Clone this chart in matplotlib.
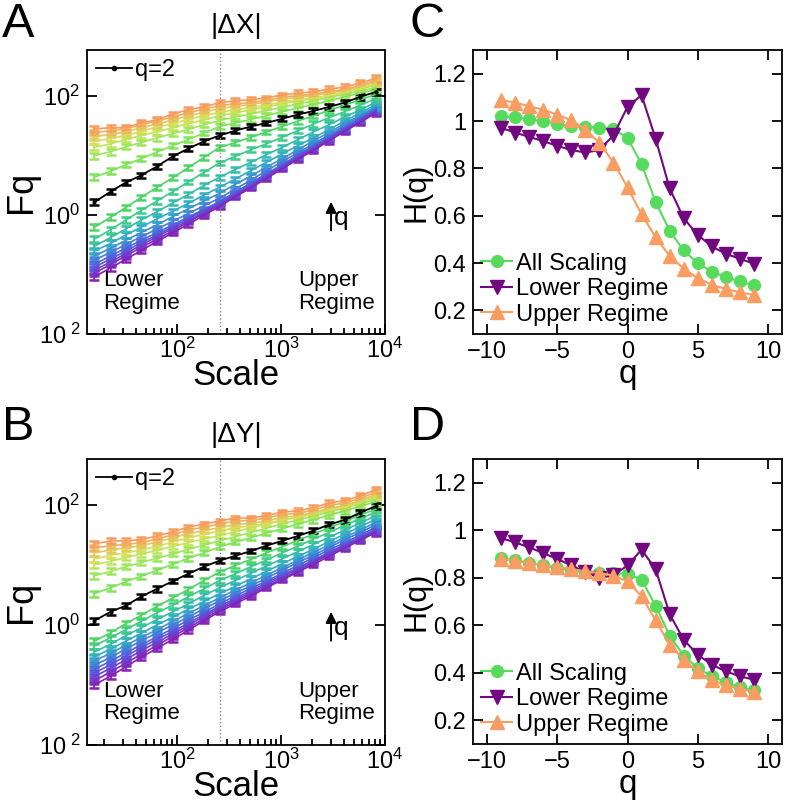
import numpy as np
import matplotlib.pyplot as plt
from matplotlib.colors import LinearSegmentedColormap
from matplotlib.lines import Line2D
from matplotlib.ticker import FixedLocator, LogLocator, NullFormatter, NullLocator

plt.rcParams['font.family'] = ['Liberation Sans', 'DejaVu Sans']
plt.rcParams['mathtext.fontset'] = 'custom'
plt.rcParams['mathtext.rm'] = 'Liberation Sans'
plt.rcParams['mathtext.it'] = 'Liberation Sans:italic'

# window sizes (scales) and q orders
scales = [16, 23, 32, 45, 64, 91, 128, 181, 256, 362, 512, 724, 1024,
          1448, 2048, 2896, 4096, 5793, 8192]
q_values = [-9, -8, -7, -6, -5, -4, -3, -2, -1, 0, 1, 2, 3, 4, 5, 6, 7, 8, 9]
crossover = 256

# log10 Fq (|dX|), one row per q from -9 to 9
logF_x = [
    [-1.04, -0.89, -0.75, -0.60, -0.45, -0.30, -0.16, -0.01, 0.14, 0.30, 0.45, 0.61, 0.77, 0.93, 1.08, 1.24, 1.40, 1.55, 1.71],
    [-0.98, -0.83, -0.69, -0.55, -0.41, -0.27, -0.12, 0.02, 0.16, 0.32, 0.47, 0.63, 0.79, 0.95, 1.10, 1.26, 1.42, 1.57, 1.73],
    [-0.93, -0.79, -0.65, -0.51, -0.37, -0.23, -0.10, 0.04, 0.18, 0.34, 0.49, 0.65, 0.81, 0.97, 1.12, 1.28, 1.44, 1.59, 1.75],
    [-0.88, -0.74, -0.61, -0.47, -0.34, -0.20, -0.07, 0.07, 0.20, 0.36, 0.51, 0.67, 0.83, 0.99, 1.14, 1.30, 1.46, 1.61, 1.77],
    [-0.83, -0.69, -0.56, -0.43, -0.30, -0.17, -0.04, 0.09, 0.22, 0.38, 0.53, 0.69, 0.84, 1.00, 1.16, 1.31, 1.47, 1.62, 1.78],
    [-0.76, -0.63, -0.50, -0.37, -0.24, -0.11, 0.02, 0.15, 0.28, 0.43, 0.58, 0.74, 0.89, 1.04, 1.19, 1.34, 1.50, 1.65, 1.80],
    [-0.69, -0.56, -0.43, -0.30, -0.17, -0.03, 0.10, 0.23, 0.36, 0.51, 0.65, 0.80, 0.94, 1.09, 1.24, 1.38, 1.53, 1.67, 1.82],
    [-0.61, -0.48, -0.34, -0.21, -0.07, 0.06, 0.19, 0.33, 0.46, 0.60, 0.74, 0.88, 1.02, 1.16, 1.29, 1.43, 1.57, 1.71, 1.85],
    [-0.53, -0.38, -0.24, -0.09, 0.05, 0.20, 0.34, 0.49, 0.63, 0.76, 0.88, 1.01, 1.13, 1.26, 1.39, 1.51, 1.64, 1.76, 1.89],
    [-0.41, -0.25, -0.09, 0.07, 0.23, 0.39, 0.55, 0.71, 0.87, 0.98, 1.09, 1.19, 1.30, 1.41, 1.52, 1.63, 1.73, 1.84, 1.95],
    [-0.21, -0.04, 0.12, 0.29, 0.46, 0.62, 0.79, 0.96, 1.13, 1.21, 1.30, 1.39, 1.48, 1.57, 1.66, 1.75, 1.84, 1.93, 2.02],
    [0.21, 0.39, 0.54, 0.66, 0.81, 0.98, 1.11, 1.23, 1.33, 1.41, 1.48, 1.54, 1.61, 1.68, 1.74, 1.81, 1.88, 1.98, 2.06],
    [0.63, 0.73, 0.84, 0.94, 1.05, 1.16, 1.26, 1.37, 1.48, 1.54, 1.60, 1.66, 1.73, 1.79, 1.85, 1.91, 1.98, 2.04, 2.10],
    [0.99, 1.06, 1.14, 1.21, 1.29, 1.36, 1.43, 1.51, 1.58, 1.64, 1.69, 1.75, 1.80, 1.86, 1.91, 1.97, 2.02, 2.08, 2.13],
    [1.13, 1.19, 1.26, 1.33, 1.39, 1.46, 1.53, 1.59, 1.66, 1.71, 1.76, 1.81, 1.86, 1.91, 1.95, 2.00, 2.05, 2.11, 2.17],
    [1.23, 1.28, 1.33, 1.40, 1.47, 1.53, 1.60, 1.66, 1.72, 1.76, 1.80, 1.84, 1.89, 1.93, 1.96, 2.00, 2.05, 2.12, 2.20],
    [1.31, 1.35, 1.39, 1.46, 1.52, 1.59, 1.66, 1.72, 1.78, 1.82, 1.85, 1.89, 1.94, 1.97, 2.00, 2.04, 2.08, 2.15, 2.23],
    [1.38, 1.41, 1.44, 1.51, 1.57, 1.64, 1.71, 1.77, 1.83, 1.86, 1.88, 1.92, 1.97, 2.00, 2.02, 2.07, 2.10, 2.17, 2.26],
    [1.44, 1.46, 1.46, 1.54, 1.59, 1.69, 1.76, 1.81, 1.88, 1.91, 1.93, 1.96, 2.01, 2.04, 2.06, 2.11, 2.14, 2.21, 2.29],
]

# log10 Fq (|dY|)
logF_y = [
    [-1.00, -0.85, -0.70, -0.54, -0.39, -0.24, -0.09, 0.07, 0.22, 0.35, 0.48, 0.62, 0.75, 0.88, 1.01, 1.14, 1.28, 1.41, 1.54],
    [-0.93, -0.78, -0.64, -0.49, -0.34, -0.19, -0.05, 0.10, 0.25, 0.38, 0.51, 0.64, 0.77, 0.90, 1.04, 1.17, 1.30, 1.43, 1.56],
    [-0.86, -0.72, -0.58, -0.43, -0.29, -0.15, -0.01, 0.14, 0.28, 0.41, 0.54, 0.67, 0.80, 0.93, 1.06, 1.19, 1.32, 1.45, 1.58],
    [-0.80, -0.66, -0.52, -0.38, -0.24, -0.11, 0.03, 0.17, 0.31, 0.44, 0.57, 0.70, 0.83, 0.95, 1.08, 1.21, 1.34, 1.47, 1.60],
    [-0.74, -0.60, -0.47, -0.33, -0.20, -0.06, 0.08, 0.21, 0.35, 0.48, 0.61, 0.73, 0.86, 0.99, 1.12, 1.25, 1.37, 1.50, 1.63],
    [-0.67, -0.54, -0.40, -0.27, -0.13, 0.00, 0.13, 0.27, 0.40, 0.53, 0.65, 0.78, 0.91, 1.04, 1.16, 1.29, 1.42, 1.54, 1.67],
    [-0.60, -0.47, -0.34, -0.21, -0.08, 0.06, 0.19, 0.32, 0.45, 0.58, 0.70, 0.83, 0.95, 1.08, 1.21, 1.33, 1.46, 1.58, 1.71],
    [-0.53, -0.40, -0.27, -0.14, 0.00, 0.13, 0.26, 0.39, 0.52, 0.64, 0.77, 0.89, 1.02, 1.14, 1.26, 1.39, 1.51, 1.64, 1.76],
    [-0.45, -0.32, -0.18, -0.05, 0.09, 0.22, 0.35, 0.49, 0.62, 0.74, 0.86, 0.98, 1.10, 1.22, 1.34, 1.46, 1.58, 1.70, 1.82],
    [-0.35, -0.21, -0.08, 0.06, 0.20, 0.33, 0.47, 0.60, 0.74, 0.85, 0.97, 1.08, 1.20, 1.31, 1.43, 1.54, 1.66, 1.77, 1.88],
    [-0.27, -0.13, 0.02, 0.16, 0.31, 0.45, 0.59, 0.74, 0.88, 0.99, 1.09, 1.20, 1.30, 1.41, 1.51, 1.62, 1.72, 1.83, 1.93],
    [0.07, 0.22, 0.32, 0.47, 0.60, 0.73, 0.85, 0.97, 1.07, 1.15, 1.23, 1.32, 1.40, 1.48, 1.57, 1.67, 1.75, 1.87, 1.98],
    [0.52, 0.62, 0.72, 0.81, 0.91, 1.01, 1.11, 1.20, 1.30, 1.38, 1.45, 1.53, 1.60, 1.68, 1.75, 1.83, 1.90, 1.98, 2.05],
    [0.82, 0.89, 0.97, 1.04, 1.11, 1.18, 1.26, 1.33, 1.40, 1.47, 1.54, 1.61, 1.68, 1.75, 1.81, 1.88, 1.95, 2.02, 2.09],
    [1.00, 1.06, 1.12, 1.18, 1.24, 1.31, 1.37, 1.43, 1.49, 1.55, 1.62, 1.68, 1.74, 1.80, 1.87, 1.93, 1.99, 2.06, 2.12],
    [1.10, 1.16, 1.20, 1.25, 1.31, 1.38, 1.45, 1.51, 1.56, 1.62, 1.65, 1.69, 1.75, 1.79, 1.84, 1.91, 1.96, 2.04, 2.15],
    [1.20, 1.25, 1.28, 1.32, 1.38, 1.45, 1.52, 1.57, 1.62, 1.67, 1.69, 1.73, 1.79, 1.82, 1.87, 1.94, 1.99, 2.07, 2.18],
    [1.28, 1.32, 1.34, 1.37, 1.43, 1.50, 1.58, 1.63, 1.68, 1.73, 1.74, 1.78, 1.84, 1.86, 1.91, 1.99, 2.03, 2.11, 2.21],
    [1.35, 1.40, 1.40, 1.42, 1.48, 1.55, 1.63, 1.68, 1.73, 1.78, 1.78, 1.82, 1.88, 1.90, 1.95, 2.03, 2.07, 2.15, 2.25],
]

# error bar half widths (log10 units) per scale
log_err = [0.05, 0.05, 0.045, 0.045, 0.045, 0.04, 0.04, 0.04, 0.04, 0.04,
           0.04, 0.04, 0.04, 0.045, 0.045, 0.045, 0.05, 0.05, 0.055]

# generalized Hurst exponents, panel C (|dX|)
H_all_x = [1.022, 1.015, 1.008, 0.998, 0.987, 0.978, 0.975, 0.972, 0.965, 0.929,
           0.818, 0.659, 0.536, 0.453, 0.399, 0.364, 0.340, 0.322, 0.305]
H_low_x = [0.971, 0.951, 0.933, 0.915, 0.895, 0.877, 0.867, 0.877, 0.940, 1.060,
           1.109, 0.926, 0.715, 0.589, 0.519, 0.470, 0.439, 0.418, 0.397]
H_up_x = [1.088, 1.078, 1.062, 1.048, 1.027, 1.003, 0.964, 0.908, 0.824, 0.720,
          0.606, 0.509, 0.430, 0.376, 0.336, 0.308, 0.290, 0.276, 0.265]

# panel D (|dY|)
H_all_y = [0.883, 0.873, 0.863, 0.852, 0.841, 0.831, 0.823, 0.820, 0.820, 0.817,
           0.792, 0.682, 0.556, 0.472, 0.420, 0.385, 0.360, 0.340, 0.326]
H_low_y = [0.967, 0.949, 0.928, 0.904, 0.879, 0.852, 0.824, 0.799, 0.810, 0.852,
           0.918, 0.837, 0.647, 0.539, 0.476, 0.434, 0.406, 0.385, 0.371]
H_up_y = [0.879, 0.872, 0.862, 0.855, 0.845, 0.837, 0.827, 0.820, 0.809, 0.785,
          0.722, 0.621, 0.518, 0.455, 0.406, 0.371, 0.347, 0.332, 0.321]

q_cmap = LinearSegmentedColormap.from_list('q', [
    (0.0, '#8A1DB4'), (0.22, '#5160E0'), (0.4, '#2FB0C8'),
    (0.5, '#3CCB8A'), (0.58, '#55D855'), (0.7, '#8EE85A'),
    (0.82, '#D5E35A'), (1.0, '#F99A5E')])

GREEN = '#56DB5C'
PURPLE = '#72087F'
ORANGE = '#F99D62'


def fq_panel(ax, logF, title):
    s = np.array(scales, dtype=float)
    e = np.array(log_err)
    n = len(q_values)
    for i, q in enumerate(q_values):
        if q == 2:
            continue
        F = 10 ** np.array(logF[i])
        ax.errorbar(s, F, yerr=[F - F * 10 ** -e, F * 10 ** e - F],
                    color=q_cmap(i / (n - 1)), lw=1.2, elinewidth=1.3,
                    capsize=3.5, capthick=1.8)
    i2 = q_values.index(2)
    F = 10 ** np.array(logF[i2])
    ax.errorbar(s, F, yerr=[F - F * 10 ** -e, F * 10 ** e - F],
                color='black', lw=1.3, elinewidth=1.3, capsize=3.5,
                capthick=1.8, marker='.', ms=4)
    ax.axvline(crossover, color='#888888', ls=':', lw=1.0)

    ax.set_xscale('log')
    ax.set_yscale('log')
    ax.set_xlim(13.6, 1e4)
    ax.set_ylim(1e-2, 580)
    ax.xaxis.set_major_locator(FixedLocator([1e2, 1e3, 1e4]))
    ax.set_xticklabels([r'$\mathdefault{10^{2}}$', r'$\mathdefault{10^{3}}$',
                        r'$\mathdefault{10^{4}}$'])
    ax.xaxis.set_minor_locator(LogLocator(base=10, subs=np.arange(2, 10)))
    ax.xaxis.set_minor_formatter(NullFormatter())
    ax.yaxis.set_major_locator(FixedLocator([1e-2, 1e0, 1e2]))
    ax.set_yticklabels([r'$\mathdefault{10^{\ 2}}$', r'$\mathdefault{10^{0}}$',
                        r'$\mathdefault{10^{2}}$'])
    ax.yaxis.set_minor_locator(NullLocator())
    ax.tick_params(which='both', direction='in', labelsize=17, width=1.3)
    ax.tick_params(axis='y', right=True, length=7, pad=5)
    ax.tick_params(axis='x', which='major', length=7, pad=3)
    ax.tick_params(axis='x', which='minor', length=4)
    for sp in ax.spines.values():
        sp.set_linewidth(1.3)

    ax.set_xlabel('Scale', fontsize=25, labelpad=-3)
    ax.set_ylabel('Fq', fontsize=26, labelpad=0)
    ax.set_title(title, fontsize=20, pad=12)

    ax.text(0.055, 0.225, 'Lower\nRegime', transform=ax.transAxes,
            fontsize=16, va='top', ha='left', linespacing=1.1)
    ax.text(0.71, 0.225, 'Upper\nRegime', transform=ax.transAxes,
            fontsize=16, va='top', ha='left', linespacing=1.1)
    ax.annotate('', xy=(0.819, 0.475), xytext=(0.819, 0.355),
                xycoords='axes fraction',
                arrowprops=dict(arrowstyle='-|>', color='black', lw=1.4,
                                mutation_scale=16))
    ax.text(0.83, 0.41, 'q', transform=ax.transAxes, fontsize=19,
            va='center', ha='left')
    handle = Line2D([], [], color='black', lw=1.3, marker='.', ms=6)
    ax.legend([handle], ['q=2'], loc='upper left', frameon=False, fontsize=17,
              handlelength=1.5, handletextpad=0.15, borderaxespad=0.2,
              borderpad=0.2)


def h_panel(ax, h_all, h_low, h_up):
    ax.plot(q_values, h_all, '-o', color=GREEN, ms=8.5, lw=1.5,
            label='All Scaling')
    ax.plot(q_values, h_low, '-v', color=PURPLE, ms=9.5, lw=1.5,
            label='Lower Regime')
    ax.plot(q_values, h_up, '-^', color=ORANGE, ms=9.5, lw=1.5,
            label='Upper Regime')
    ax.set_xlim(-11, 11)
    ax.set_ylim(0.1, 1.3)
    ax.set_xticks([-10, -5, 0, 5, 10])
    ax.set_yticks([0.2, 0.4, 0.6, 0.8, 1.0, 1.2])
    ax.set_yticklabels(['0.2', '0.4', '0.6', '0.8', '1', '1.2'])
    ax.tick_params(direction='in', top=True, right=True, length=7,
                   width=1.3, labelsize=17, pad=5)
    for sp in ax.spines.values():
        sp.set_linewidth(1.3)
    ax.set_xlabel('q', fontsize=24, labelpad=-3)
    ax.set_ylabel('H(q)', fontsize=22, labelpad=1)
    ax.legend(loc='lower left', frameon=False, fontsize=17, handlelength=1.3,
              handletextpad=0.15, labelspacing=0.15, borderaxespad=0.15,
              borderpad=0.2)


fig = plt.figure(figsize=(7.87, 8.02), dpi=100)
W, Hh = 787.0, 802.0

axA = fig.add_axes([87 / W, 1 - 334 / Hh, 298 / W, 284 / Hh])
axB = fig.add_axes([87 / W, 1 - 745 / Hh, 298 / W, 286 / Hh])
axC = fig.add_axes([473 / W, 1 - 334 / Hh, 309 / W, 284 / Hh])
axD = fig.add_axes([473 / W, 1 - 744 / Hh, 309 / W, 285 / Hh])

fq_panel(axA, logF_x, '|ΔX|')
fq_panel(axB, logF_y, '|ΔY|')
h_panel(axC, H_all_x, H_low_x, H_up_x)
h_panel(axD, H_all_y, H_low_y, H_up_y)

for lab, x, y in [('A', 2, 37), ('B', 2, 440), ('C', 410, 37), ('D', 410, 440)]:
    fig.text(x / W, 1 - y / Hh, lab, fontsize=35, ha='left', va='baseline')

fig.savefig('out.png', dpi=100)
